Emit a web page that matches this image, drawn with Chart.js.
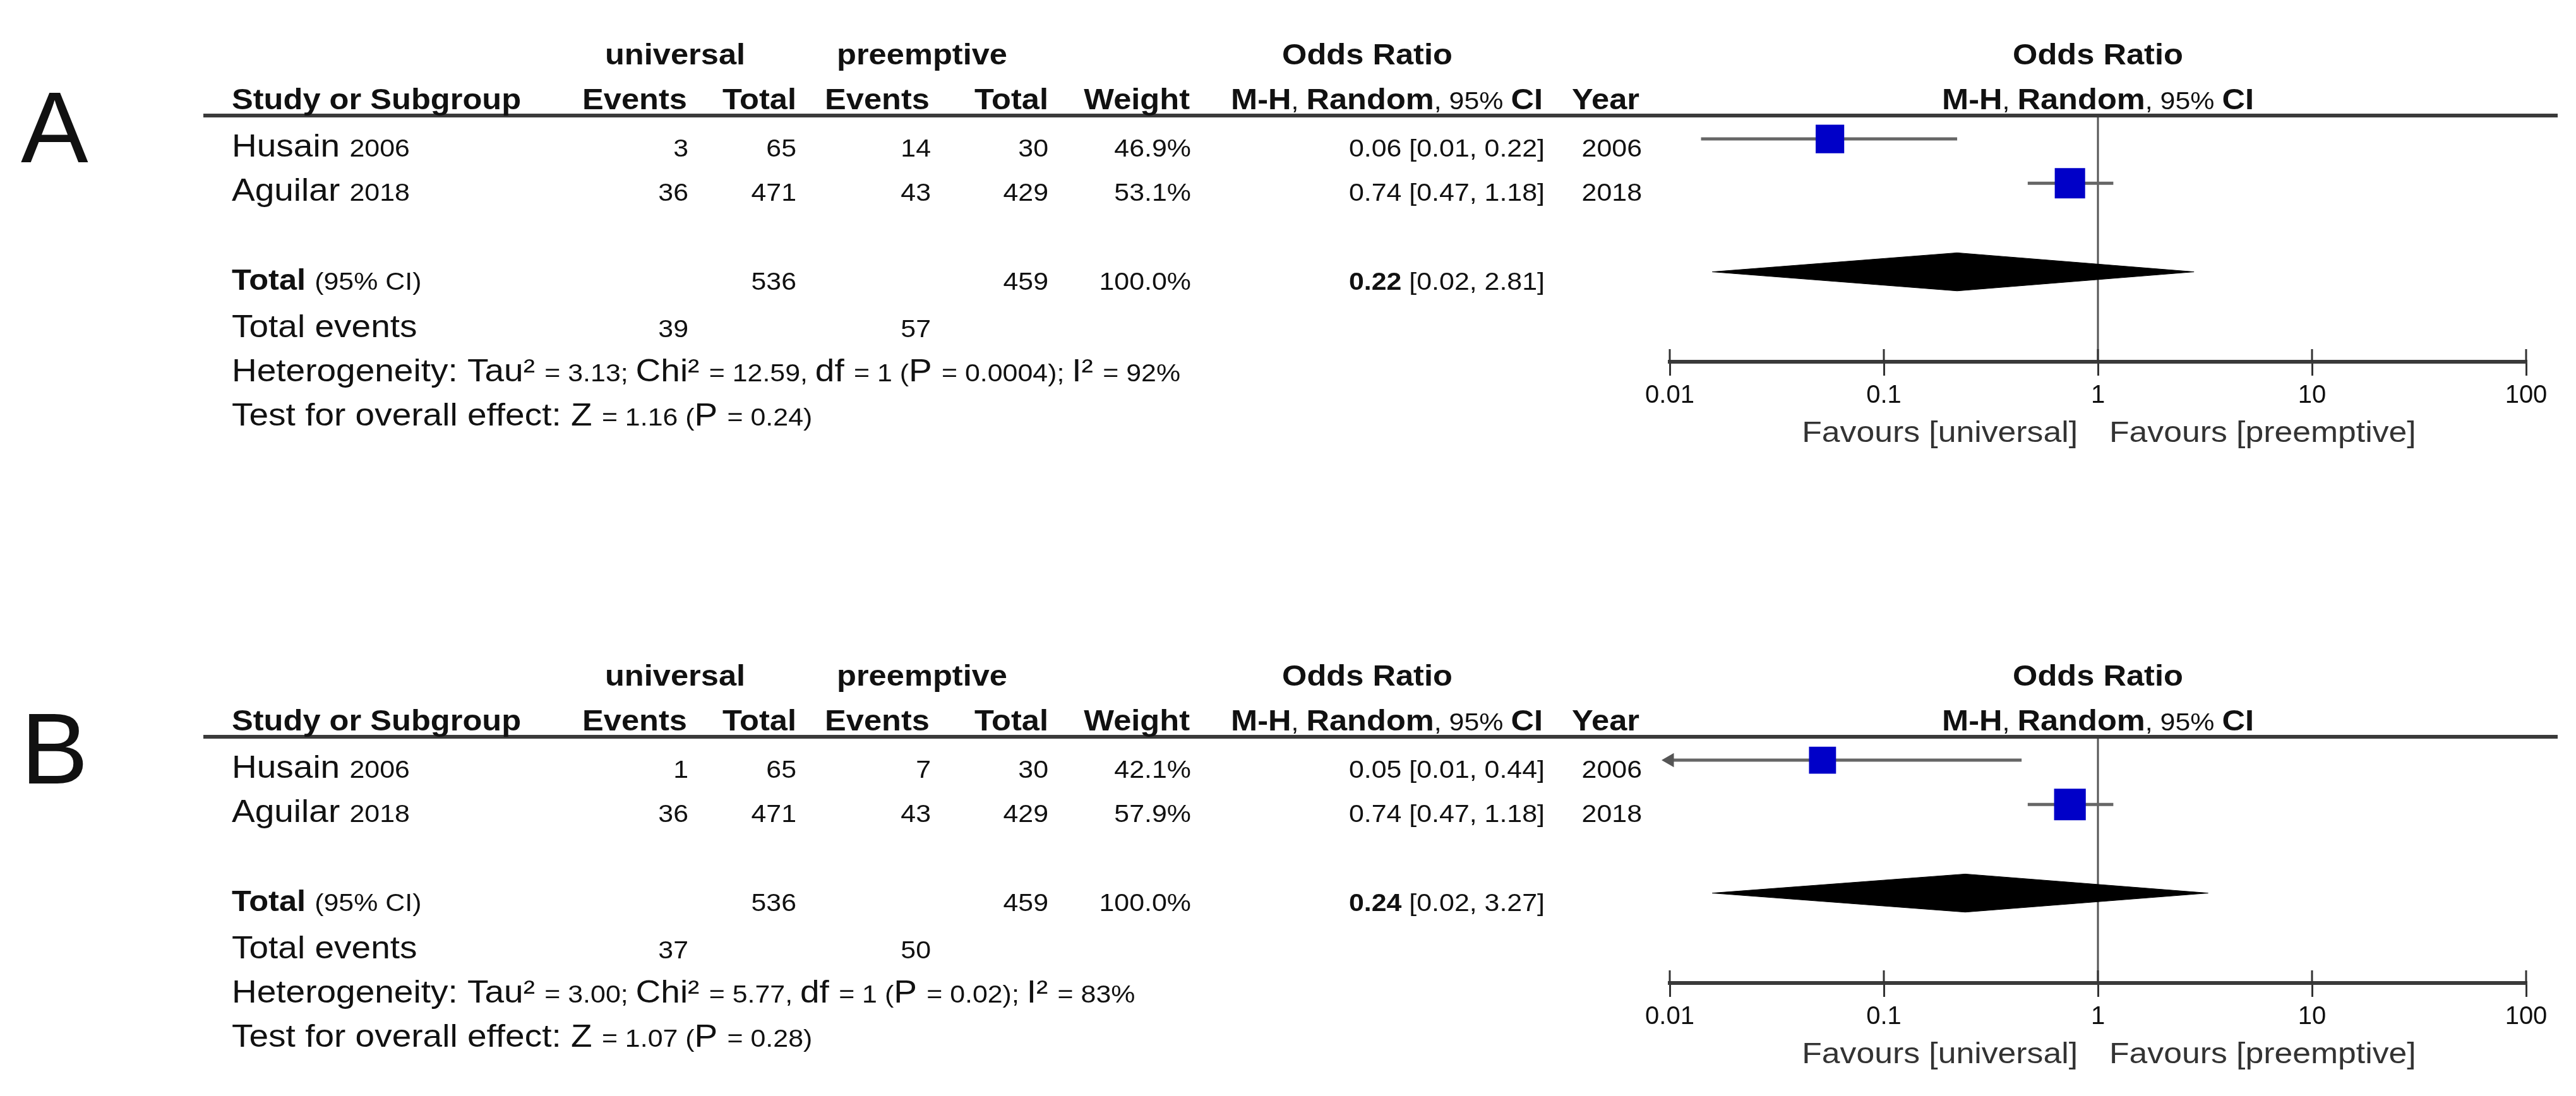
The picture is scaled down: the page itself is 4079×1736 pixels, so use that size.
<!DOCTYPE html>
<html>
<head>
<meta charset="utf-8">
<script src="https://cdn.jsdelivr.net/npm/chart.js@4.4.0/dist/chart.umd.min.js"></script>
<style>
html, body { margin: 0; padding: 0; background: #fff; overflow: hidden; }
canvas { position: absolute; left: 0; }
#chartA { top: 0; }
#chartB { top: 984px; }
</style>
</head>
<body>
<canvas id="chartA" width="4079" height="760"></canvas>
<canvas id="chartB" width="4079" height="760"></canvas>
<script>
// data, one entry per panel (A, B)
const panels = ['A', 'B'];
const studyNames = ['Husain', 'Aguilar'];
const studyYears = ['2006', '2018'];
const univEvents = [[3, 36], [1, 36]];
const univTotal = [[65, 471], [65, 471]];
const preEvents = [[14, 43], [7, 43]];
const preTotal = [[30, 429], [30, 429]];
const weights = [[46.9, 53.1], [42.1, 57.9]];
const orEst = [[0.056, 0.74], [0.0517, 0.74]];
const orLow = [[0.014, 0.47], [0.006, 0.47]];
const orHigh = [[0.22, 1.18], [0.44, 1.18]];
const totalOr = [0.22, 0.24];
const totalLow = [0.0158, 0.0158];
const totalHigh = [2.81, 3.27];
const tau2 = [3.13, 3.00];
const chi2 = [12.59, 5.77];
const hetDf = [1, 1];
const hetP = [0.0004, 0.02];
const i2 = [92, 83];
const zStat = [1.16, 1.07];
const zP = [0.24, 0.28];
const axisTicks = [0.01, 0.1, 1, 10, 100];

// layout
const H = 760;
const AXIS_Y = 573;
const SX = 1.1;
const DIAMOND_H = 0.43;
const F_HEAD = 'bold 46px "Liberation Sans"';
const F_TEXT = '50px "Liberation Sans"';
const F_NUM = '39px "Liberation Sans"';
const F_NUMB = 'bold 39px "Liberation Sans"';
const F_FAV = '47px "Liberation Sans"';
const studyX = 367;
const col = { ue: 1090, ut: 1261, pe: 1474, pt: 1660, w: 1886, or: 2446, yr: 2600 };

function txt(ctx, segs, x, y, align) {
    let total = 0;
    segs.forEach(s => { ctx.font = s[1]; total += ctx.measureText(s[0]).width * SX; });
    let cx = align === 'right' ? x - total : align === 'center' ? x - total / 2 : x;
    segs.forEach(s => {
        ctx.font = s[1];
        const w = ctx.measureText(s[0]).width;
        ctx.save();
        ctx.translate(cx, y);
        ctx.scale(SX, 1);
        ctx.textAlign = 'left';
        ctx.fillText(s[0], 0, 0);
        ctx.restore();
        cx += w * SX;
    });
}

const sum = a => a.reduce((t, v) => t + v, 0);
const ci = (l, h) => ' [' + l.toFixed(2) + ', ' + h.toFixed(2) + ']';

function tablePlugin(p) {
    return {
        id: 'forestTable' + p,
        beforeDatasetsDraw(chart) {
            const { ctx, chartArea, scales: { x } } = chart;
            const x1 = x.getPixelForValue(1);
            ctx.save();
            ctx.strokeStyle = '#555';
            ctx.lineWidth = 3;
            ctx.beginPath();
            ctx.moveTo(x1, chartArea.top);
            ctx.lineTo(x1, chartArea.bottom);
            ctx.stroke();
            ctx.restore();
        },
        afterDraw(chart) {
            const { ctx, chartArea, scales: { x, y } } = chart;
            const rowY = r => y.getPixelForValue(r) + 28;
            const x1 = x.getPixelForValue(1);
            ctx.save();

            // tick stubs above the axis line
            ctx.strokeStyle = '#333';
            ctx.lineWidth = 3;
            axisTicks.forEach(v => {
                const px = x.getPixelForValue(v);
                ctx.beginPath();
                ctx.moveTo(px, chartArea.bottom - 20);
                ctx.lineTo(px, chartArea.bottom);
                ctx.stroke();
            });

            // header rule
            ctx.strokeStyle = '#3a3a3a';
            ctx.lineWidth = 6;
            ctx.beginPath();
            ctx.moveTo(322, chartArea.top);
            ctx.lineTo(4050, chartArea.top);
            ctx.stroke();

            ctx.fillStyle = '#111';
            ctx.textBaseline = 'alphabetic';
            ctx.textAlign = 'left';
            ctx.font = '160px "Liberation Sans"';
            ctx.fillText(panels[p], 33, 257);

            // headers
            txt(ctx, [['universal', F_HEAD]], 1069, 102, 'center');
            txt(ctx, [['preemptive', F_HEAD]], 1460, 102, 'center');
            txt(ctx, [['Odds Ratio', F_HEAD]], 2165, 102, 'center');
            txt(ctx, [['Study or Subgroup', F_HEAD]], studyX, 173, 'left');
            txt(ctx, [['Events', F_HEAD]], col.ue - 2, 173, 'right');
            txt(ctx, [['Total', F_HEAD]], col.ut, 173, 'right');
            txt(ctx, [['Events', F_HEAD]], col.pe - 2, 173, 'right');
            txt(ctx, [['Total', F_HEAD]], col.pt, 173, 'right');
            txt(ctx, [['Weight', F_HEAD]], col.w - 2, 173, 'right');
            const mh = [['M-H', F_HEAD], [', ', F_NUM], ['Random', F_HEAD], [', 95% ', F_NUM], ['CI', F_HEAD]];
            txt(ctx, mh, col.or - 3, 173, 'right');
            txt(ctx, [['Year', F_HEAD]], col.yr - 4, 173, 'right');
            txt(ctx, [['Odds Ratio', F_HEAD]], x1, 102, 'center');
            txt(ctx, mh, x1, 173, 'center');

            // study rows
            studyNames.forEach((s, j) => {
                const yy = rowY(j + 1);
                txt(ctx, [[s + ' ', F_TEXT], [studyYears[j], F_NUM]], studyX, yy, 'left');
                txt(ctx, [[String(univEvents[p][j]), F_NUM]], col.ue, yy, 'right');
                txt(ctx, [[String(univTotal[p][j]), F_NUM]], col.ut, yy, 'right');
                txt(ctx, [[String(preEvents[p][j]), F_NUM]], col.pe, yy, 'right');
                txt(ctx, [[String(preTotal[p][j]), F_NUM]], col.pt, yy, 'right');
                txt(ctx, [[weights[p][j].toFixed(1) + '%', F_NUM]], col.w, yy, 'right');
                txt(ctx, [[orEst[p][j].toFixed(2) + ci(orLow[p][j], orHigh[p][j]), F_NUM]], col.or, yy, 'right');
                txt(ctx, [[studyYears[j], F_NUM]], col.yr, yy, 'right');
            });

            // total row
            let yy = rowY(4);
            txt(ctx, [['Total ', F_HEAD], ['(95% CI)', F_NUM]], studyX, yy, 'left');
            txt(ctx, [[String(sum(univTotal[p])), F_NUM]], col.ut, yy, 'right');
            txt(ctx, [[String(sum(preTotal[p])), F_NUM]], col.pt, yy, 'right');
            txt(ctx, [[sum(weights[p]).toFixed(1) + '%', F_NUM]], col.w, yy, 'right');
            txt(ctx, [[totalOr[p].toFixed(2), F_NUMB], [ci(totalLow[p], totalHigh[p]), F_NUM]], col.or, yy, 'right');

            yy = rowY(5.07);
            txt(ctx, [['Total events', F_TEXT]], studyX, yy, 'left');
            txt(ctx, [[String(sum(univEvents[p])), F_NUM]], col.ue, yy, 'right');
            txt(ctx, [[String(sum(preEvents[p])), F_NUM]], col.pe, yy, 'right');

            yy = rowY(6.07);
            txt(ctx, [
                ['Heterogeneity: Tau\u00b2 ', F_TEXT], ['= ' + tau2[p].toFixed(2) + '; ', F_NUM],
                ['Chi\u00b2 ', F_TEXT], ['= ' + chi2[p].toFixed(2) + ', ', F_NUM],
                ['df ', F_TEXT], ['= ' + hetDf[p] + ' (', F_NUM],
                ['P ', F_TEXT], ['= ' + String(hetP[p]) + '); ', F_NUM],
                ['I\u00b2 ', F_TEXT], ['= ' + i2[p] + '%', F_NUM]
            ], studyX, yy, 'left');

            yy = rowY(7.07);
            txt(ctx, [
                ['Test for overall effect: Z ', F_TEXT], ['= ' + zStat[p].toFixed(2) + ' (', F_NUM],
                ['P ', F_TEXT], ['= ' + zP[p].toFixed(2) + ')', F_NUM]
            ], studyX, yy, 'left');

            // favours labels
            ctx.fillStyle = '#333';
            txt(ctx, [['Favours [universal]', F_FAV]], x1 - 32, 700, 'right');
            txt(ctx, [['Favours [preemptive]', F_FAV]], x1 + 18, 700, 'left');
            ctx.restore();
        }
    };
}

function makePanel(id, p) {
    const rows = studyNames.map((s, j) => j + 1);
    const datasets = [
        {
            label: 'Study',
            data: rows.map((r, j) => ({ x: orEst[p][j], y: r })),
            pointStyle: 'rect',
            pointRadius: weights[p].map(w => 34.6 * Math.sqrt(w / 55)),
            backgroundColor: '#0000c8',
            borderWidth: 0,
            showLine: false
        },
        {
            label: 'Total',
            data: [
                { x: totalLow[p], y: 4 },
                { x: totalOr[p], y: 4 - DIAMOND_H },
                { x: totalHigh[p], y: 4 },
                { x: totalOr[p], y: 4 + DIAMOND_H },
                { x: totalLow[p], y: 4 }
            ],
            showLine: true,
            fill: 'shape',
            backgroundColor: '#000',
            borderColor: '#000',
            borderWidth: 1,
            pointRadius: 0
        },
        {
            label: 'Arrow',
            data: rows.filter((r, j) => orLow[p][j] < axisTicks[0]).map(r => ({ x: axisTicks[0], y: r })),
            pointStyle: 'triangle',
            rotation: -90,
            pointRadius: 13,
            backgroundColor: '#555',
            borderWidth: 0,
            showLine: false,
            clip: false
        }
    ];
    rows.forEach((r, j) => {
        datasets.push({
            label: 'CI ' + studyNames[j],
            data: [{ x: orLow[p][j], y: r }, { x: orHigh[p][j], y: r }],
            showLine: true,
            borderColor: '#666',
            borderWidth: 5,
            pointRadius: 0
        });
    });

    return new Chart(document.getElementById(id).getContext('2d'), {
        type: 'scatter',
        data: { datasets: datasets },
        options: {
            responsive: false,
            animation: false,
            devicePixelRatio: 1,
            events: [],
            layout: { padding: { left: 2644, right: 79, top: 183, bottom: 0 } },
            plugins: { legend: { display: false }, tooltip: { enabled: false } },
            scales: {
                x: {
                    type: 'logarithmic',
                    min: 0.01,
                    max: 100,
                    afterBuildTicks: s => { s.ticks = axisTicks.map(v => ({ value: v })); },
                    afterFit: s => { s.height = H - AXIS_Y; },
                    grid: { display: true, drawOnChartArea: false, drawTicks: true, tickLength: 22, color: '#333', lineWidth: 3 },
                    border: { display: true, color: '#3a3a3a', width: 6 },
                    ticks: {
                        callback: v => String(v),
                        font: { family: 'Liberation Sans', size: 40 },
                        color: '#111',
                        padding: 8,
                        maxRotation: 0,
                        autoSkip: false
                    }
                },
                y: { type: 'linear', display: false, reverse: true, min: 0.471, max: 6.03 }
            }
        },
        plugins: [tablePlugin(p)]
    });
}

makePanel('chartA', 0);
makePanel('chartB', 1);
</script>
</body>
</html>
